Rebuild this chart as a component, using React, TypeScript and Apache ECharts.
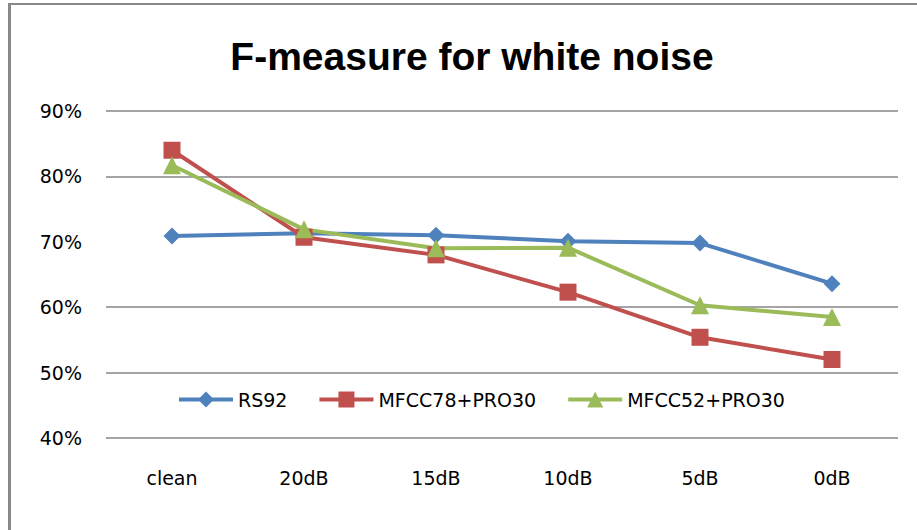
import React, { useEffect, useRef } from "react";
import * as echarts from "echarts";

const categories = ["clean", "20dB", "15dB", "10dB", "5dB", "0dB"];
const seriesNames = ["RS92", "MFCC78+PRO30", "MFCC52+PRO30"];
const rs92 = [70.9, 71.3, 71.0, 70.1, 69.8, 63.6];
const mfcc78 = [84.0, 70.7, 68.0, 62.3, 55.4, 52.0];
const mfcc52 = [81.7, 71.9, 69.0, 69.1, 60.3, 58.5];
const yTicks = [40, 50, 60, 70, 80, 90];

const colors = ["#4F81BD", "#C0504D", "#9BBB59"];
const symbols = ["diamond", "rect", "triangle"];
const FONT = "'DejaVu Sans', sans-serif";

export default function App() {
  const ref = useRef<HTMLDivElement>(null);
  useEffect(() => {
    if (!ref.current) return;
    const chart = echarts.init(ref.current, null, { renderer: "svg" });
    const data = [rs92, mfcc78, mfcc52];
    chart.setOption({
      animation: false,
      backgroundColor: "#ffffff",
      title: {
        text: "F-measure for white noise",
        left: 467,
        top: 32,
        textAlign: "center",
        textStyle: {
          fontFamily: "'Liberation Sans', Arial, sans-serif",
          fontWeight: "bold",
          fontSize: 39,
          color: "#000000",
        },
      },
      legend: {
        left: 172,
        top: 385,
        itemWidth: 54,
        itemHeight: 20,
        itemGap: 30,
        textStyle: { fontFamily: FONT, fontSize: 19, color: "#000000" },
        lineStyle: { width: 4 },
        data: seriesNames,
      },
      grid: { left: 106, right: 19, top: 111, bottom: 92 },
      xAxis: {
        type: "category",
        data: categories,
        boundaryGap: true,
        axisLine: { show: false },
        axisTick: { show: false },
        axisLabel: { fontFamily: FONT, fontSize: 19, color: "#000000", margin: 30 },
      },
      yAxis: {
        type: "value",
        min: yTicks[0],
        max: yTicks[yTicks.length - 1],
        interval: 10,
        axisLine: { show: false },
        axisTick: { show: false },
        axisLabel: {
          fontFamily: FONT,
          fontSize: 19,
          color: "#000000",
          margin: 24,
          formatter: "{value}%",
        },
        splitLine: {
          lineStyle: {
            color: ["#868686", "#868686", "#868686", "rgba(0,0,0,0)", "#868686", "#868686"],
            width: 1.5,
          },
        },
      },
      graphic: [
        {
          type: "line",
          shape: { x1: 9.5, y1: 4, x2: 9.5, y2: 530 },
          style: { stroke: "#888888", lineWidth: 3 },
        },
        {
          type: "line",
          shape: { x1: 8, y1: 4, x2: 917, y2: 4 },
          style: { stroke: "#888888", lineWidth: 2 },
        },
      ],
      series: seriesNames.map((name, i) => ({
        name,
        type: "line",
        data: data[i],
        symbol: symbols[i],
        symbolSize: i === 2 ? 18 : 17,
        showSymbol: true,
        itemStyle: { color: colors[i] },
        lineStyle: { color: colors[i], width: 4 },
      })),
    });
    return () => chart.dispose();
  }, []);
  return (
    <div
      ref={ref}
      style={{ position: "fixed", left: 0, top: 0, width: 917, height: 530 }}
    />
  );
}
